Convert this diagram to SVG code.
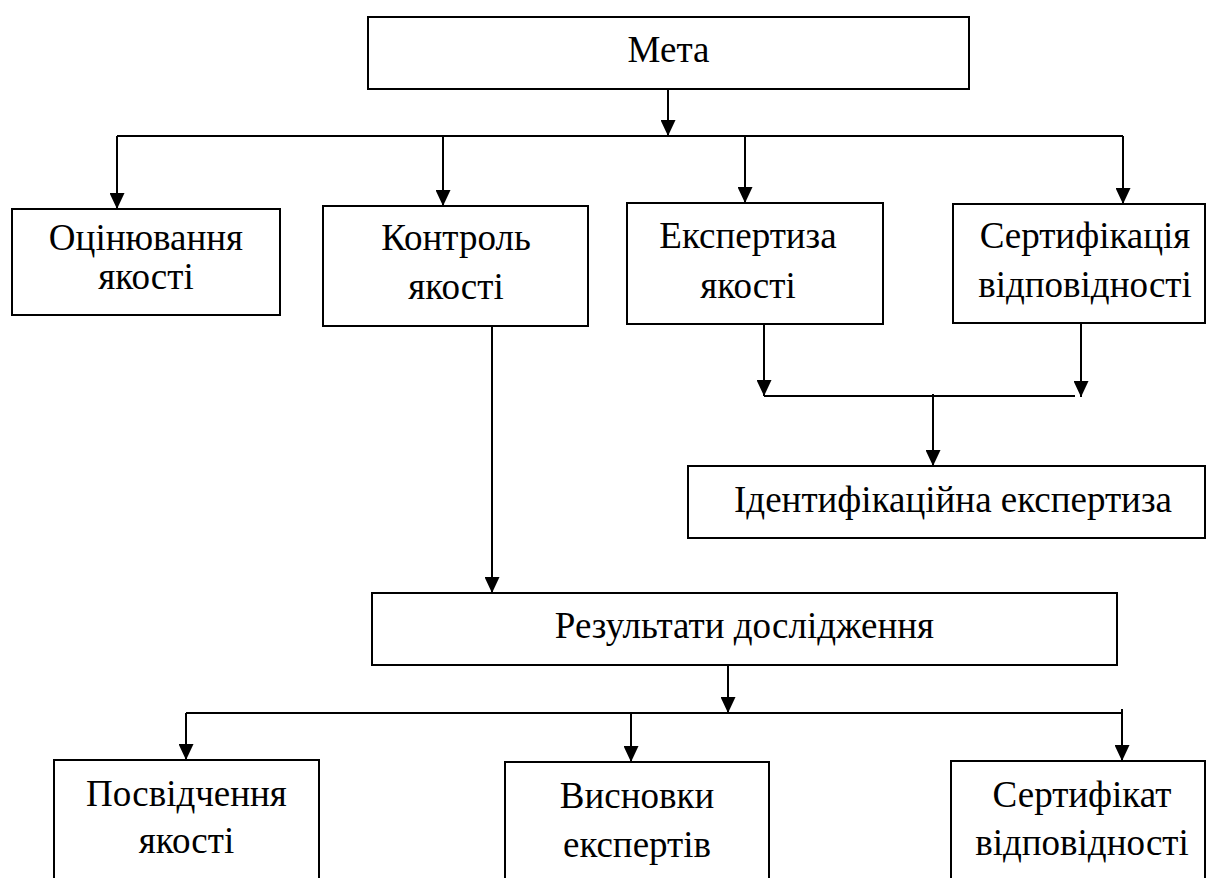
<svg xmlns="http://www.w3.org/2000/svg" width="1206" height="878" viewBox="0 0 1206 878">
  <style>
    .box { fill: #fff; stroke: #000; stroke-width: 2; }
    .lbl { font-family: 'Liberation Serif', 'Times New Roman', 'DejaVu Serif', serif; font-size: 37px; fill: #000; text-anchor: middle; }
    .wire { fill: none; stroke: #000; stroke-width: 2; }
    .arr { marker-end: url(#head); }
  </style>
  <defs>
    <marker id="head" viewBox="0 0 16 15" refX="16" refY="7.5" markerWidth="16" markerHeight="15" markerUnits="userSpaceOnUse" orient="auto">
      <path d="M0,0 L16,7.5 L0,15 z" fill="#000"/>
    </marker>
  </defs>
  <rect width="1206" height="878" fill="#fff"/>

  <g id="connectors">
    <path class="wire arr" d="M668,89 V136"/>
    <path class="wire" d="M117,136 H1123"/>
    <path class="wire arr" d="M117,136 V209"/>
    <path class="wire arr" d="M443,136 V206"/>
    <path class="wire arr" d="M745,136 V203"/>
    <path class="wire arr" d="M1123,136 V204"/>
    <path class="wire arr" d="M764,324 V396"/>
    <path class="wire arr" d="M1081,323 V397"/>
    <path class="wire" d="M764,396 H1075"/>
    <path class="wire arr" d="M933,394 V466"/>
    <path class="wire arr" d="M492,326 V593"/>
    <path class="wire arr" d="M728,665 V713"/>
    <path class="wire" d="M186,713 H1122"/>
    <path class="wire arr" d="M186,713 V760"/>
    <path class="wire arr" d="M631,713 V762"/>
    <path class="wire arr" d="M1122,709 V761"/>
  </g>

  <g id="meta">
    <rect class="box" x="368" y="17" width="601" height="72"/>
    <text class="lbl" x="668.5" y="62">Мета</text>
  </g>
  <g id="otsiniuvannia">
    <rect class="box" x="12" y="209" width="268" height="106"/>
    <text class="lbl" x="146" y="250">Оцінювання</text>
    <text class="lbl" x="146" y="289">якості</text>
  </g>
  <g id="kontrol">
    <rect class="box" x="323" y="206" width="265" height="120"/>
    <text class="lbl" x="456" y="250">Контроль</text>
    <text class="lbl" x="456" y="299">якості</text>
  </g>
  <g id="ekspertyza">
    <rect class="box" x="627" y="203" width="256" height="121"/>
    <text class="lbl" x="748" y="248">Експертиза</text>
    <text class="lbl" x="748" y="298">якості</text>
  </g>
  <g id="sertyfikatsiia">
    <rect class="box" x="953" y="204" width="252" height="119"/>
    <text class="lbl" x="1085" y="248">Сертифікація</text>
    <text class="lbl" x="1085" y="297">відповідності</text>
  </g>
  <g id="identyfikatsiina">
    <rect class="box" x="688" y="466" width="517" height="72"/>
    <text class="lbl" x="953" y="512">Ідентифікаційна експертиза</text>
  </g>
  <g id="rezultaty">
    <rect class="box" x="372" y="593" width="745" height="72"/>
    <text class="lbl" x="744.5" y="638">Результати дослідження</text>
  </g>
  <g id="posvidchennia">
    <rect class="box" x="54" y="760" width="265" height="130"/>
    <text class="lbl" x="186.5" y="806">Посвідчення</text>
    <text class="lbl" x="186.5" y="853">якості</text>
  </g>
  <g id="vysnovky">
    <rect class="box" x="505" y="762" width="264" height="130"/>
    <text class="lbl" x="637" y="808">Висновки</text>
    <text class="lbl" x="637" y="857">експертів</text>
  </g>
  <g id="sertyfikat">
    <rect class="box" x="951" y="761" width="254" height="130"/>
    <text class="lbl" x="1082" y="807">Сертифікат</text>
    <text class="lbl" x="1082" y="855">відповідності</text>
  </g>
</svg>
